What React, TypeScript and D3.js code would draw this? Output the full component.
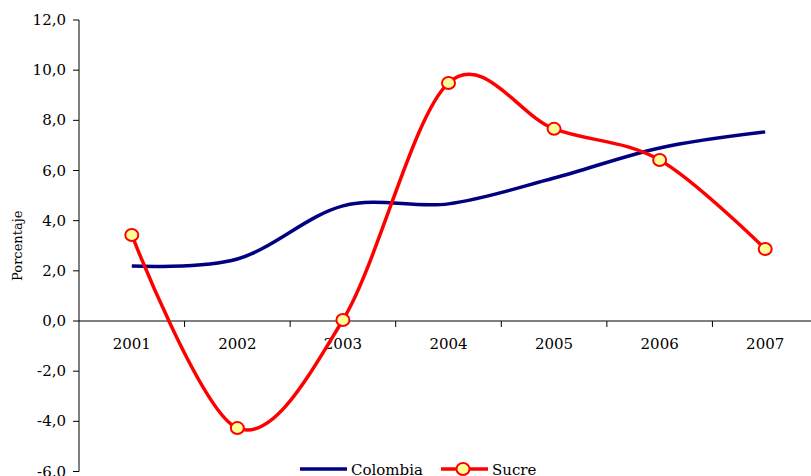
import * as d3 from 'd3';

const years = ['2001', '2002', '2003', '2004', '2005', '2006', '2007'];
const colombia = [2.19, 2.47, 4.59, 4.67, 5.7, 6.9, 7.54];
const sucre = [3.43, -4.27, 0.04, 9.49, 7.66, 6.42, 2.87];
const yTicks = [-6, -4, -2, 0, 2, 4, 6, 8, 10, 12];

const W = 811;
const H = 476;
const FONT = '"DejaVu Serif", serif';

const App = () => {
  const x = d3.scaleBand<string>().domain(years).range([79, 818]);
  const y = d3.scaleLinear().domain([-6, 12]).range([471.5, 20]);
  const cx = (i: number) => (x(years[i]) as number) + x.bandwidth() / 2;

  const line = d3
    .line<number>()
    .x((_d, i) => cx(i))
    .y((d) => y(d))
    .curve(d3.curveCatmullRom.alpha(0));

  const fmt = (v: number) => v.toFixed(1).replace('.', ',');
  const x0 = x.range()[0];

  return (
    <svg width={W} height={H} style={{ position: 'absolute', left: 0, top: 0 }}>
      <rect width={W} height={H} fill="#fff" />
      {/* y axis */}
      <line x1={x0} x2={x0} y1={y(12)} y2={y(-6)} stroke="#000" strokeWidth={1} />
      {yTicks.map((t) => (
        <g key={t}>
          <line x1={x0 - 6} x2={x0} y1={y(t)} y2={y(t)} stroke="#000" />
          <text x={x0 - 13} y={y(t) + 5} textAnchor="end" fontFamily={FONT} fontSize={15}>
            {fmt(t)}
          </text>
        </g>
      ))}
      <text
        transform={`translate(22,${y(3)}) rotate(-90)`}
        textAnchor="middle"
        fontFamily={FONT}
        fontSize={13}
      >
        Porcentaje
      </text>
      {/* x axis at zero */}
      <line x1={x0} x2={818} y1={y(0)} y2={y(0)} stroke="#000" />
      {years.map((yr, i) => (
        <g key={yr}>
          <line
            x1={(x(yr) as number) + x.bandwidth()}
            x2={(x(yr) as number) + x.bandwidth()}
            y1={y(0)}
            y2={y(0) + 6}
            stroke="#000"
          />
          <text x={cx(i)} y={y(0) + 28} textAnchor="middle" fontFamily={FONT} fontSize={15}>
            {yr}
          </text>
        </g>
      ))}
      {/* series */}
      <path d={line(colombia) as string} fill="none" stroke="#000080" strokeWidth={3.5} />
      <path d={line(sucre) as string} fill="none" stroke="#ff0000" strokeWidth={3.5} />
      {sucre.map((v, i) => (
        <ellipse key={i} cx={cx(i)} cy={y(v)} rx={6.5} ry={6} fill="#ffff99" stroke="#ff0000" strokeWidth={2} />
      ))}
      {/* legend */}
      <line x1={300} x2={347} y1={469} y2={469} stroke="#000080" strokeWidth={3.5} />
      <text x={351} y={475} fontFamily={FONT} fontSize={15}>
        Colombia
      </text>
      <line x1={441} x2={488} y1={469} y2={469} stroke="#ff0000" strokeWidth={3.5} />
      <ellipse cx={463} cy={469} rx={6.5} ry={6} fill="#ffff99" stroke="#ff0000" strokeWidth={2} />
      <text x={492} y={475} fontFamily={FONT} fontSize={15}>
        Sucre
      </text>
    </svg>
  );
};

export default App;
